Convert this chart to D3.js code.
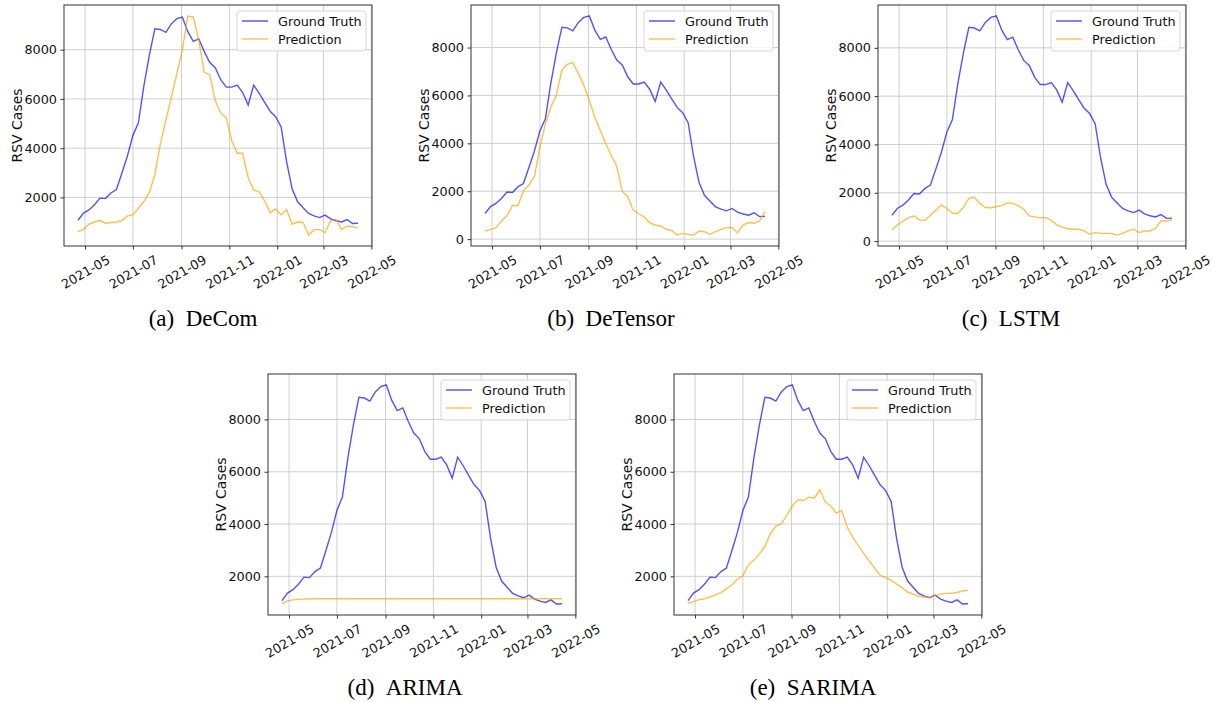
<!DOCTYPE html>
<html>
<head>
<meta charset="utf-8">
<style>
    body { margin: 0; background: #fff; }
    .tick text { font-family: "DejaVu Sans", sans-serif; font-size: 12.8px; fill: #111; }
    .tick line { stroke: #333; }
    .domain { display: none; }
    .grid line { stroke: #c9c9c9; stroke-width: 0.9; }
    .ylabel { font-family: "DejaVu Sans", sans-serif; font-size: 14px; fill: #111; text-anchor: middle; }
    .legend text { font-family: "DejaVu Sans", sans-serif; font-size: 12.8px; fill: #111; }
    .caption { font-family: "Liberation Serif", "Times New Roman", serif; font-size: 23px; text-anchor: middle; fill: #000; }
</style>
<script src="https://d3js.org/d3.v7.min.js"></script>
</head>
<body>
<svg width="1213" height="702"></svg>
<script>
// weekly series, first week ending 2021-04-22
var startDate = "2021-04-22";
var xTickLabels = ["2021-05", "2021-07", "2021-09", "2021-11", "2022-01", "2022-03", "2022-05"];
var yTickValues = [0, 2000, 4000, 6000, 8000];
var seriesNames = ["Ground Truth", "Prediction"];

var groundTruth = [1070, 1360, 1490, 1700, 1970, 1950, 2180, 2320, 2990, 3680, 4520, 5030, 6530, 7780, 8850, 8820,
    8700, 9050, 9260, 9320, 8730, 8340, 8440, 7920, 7480, 7270, 6780, 6480, 6480, 6560, 6260, 5750, 6560, 6230,
    5860, 5500, 5280, 4860, 3440, 2350, 1820, 1580, 1350, 1250, 1180, 1280, 1130, 1050, 1000, 1100, 940, 950];

var predDeCom = [610, 700, 910, 1000, 1060, 950, 980, 1000, 1060, 1250, 1290, 1560, 1830, 2200, 2920, 4170, 5120,
    6070, 7020, 7970, 9370, 9330, 8380, 7080, 6980, 5930, 5420, 5230, 4300, 3790, 3790, 2800, 2300, 2230, 1860,
    1370, 1530, 1290, 1510, 910, 1000, 980, 470, 690, 690, 570, 1050, 1110, 690, 830, 820, 740];

var predDeTensor = [340, 410, 480, 760, 970, 1410, 1390, 2020, 2260, 2620, 3840, 4820, 5520, 6010, 7060, 7300, 7370,
    6920, 6430, 5800, 5100, 4540, 3980, 3490, 3040, 1990, 1780, 1200, 1060, 920, 690, 590, 550, 410, 360, 170, 240,
    200, 170, 340, 310, 200, 310, 410, 480, 480, 270, 590, 690, 660, 760, 1150];

var predLSTM = [470, 670, 830, 970, 1040, 880, 860, 1070, 1280, 1490, 1360, 1150, 1150, 1390, 1770, 1810, 1560, 1390,
    1380, 1430, 1470, 1580, 1560, 1470, 1320, 1040, 1000, 970, 970, 860, 670, 580, 510, 490, 490, 420, 280, 350, 320,
    320, 320, 250, 320, 420, 490, 350, 420, 420, 530, 830, 830, 880];

var predARIMA = [970, 1060, 1100, 1120, 1130, 1135, 1140, 1140, 1140, 1140, 1140, 1140, 1140, 1140, 1140, 1140, 1140,
    1140, 1140, 1140, 1140, 1140, 1140, 1140, 1140, 1140, 1140, 1140, 1140, 1140, 1140, 1140, 1140, 1140, 1140, 1140,
    1140, 1140, 1140, 1140, 1140, 1140, 1140, 1140, 1140, 1140, 1140, 1140, 1140, 1140, 1140, 1140];

var predSARIMA = [970, 1030, 1110, 1140, 1210, 1290, 1380, 1530, 1670, 1890, 2020, 2440, 2620, 2860, 3140, 3630, 3920,
    4010, 4330, 4690, 4930, 4900, 5030, 4990, 5310, 4840, 4690, 4420, 4520, 3880, 3500, 3180, 2880, 2590, 2310, 2040,
    1950, 1850, 1700, 1570, 1400, 1320, 1240, 1210, 1200, 1260, 1320, 1350, 1350, 1380, 1440, 1470];

var captions = ["(a)\u2002DeCom", "(b)\u2002DeTensor", "(c)\u2002LSTM", "(d)\u2002ARIMA", "(e)\u2002SARIMA"];

// layout of the five axes boxes
var W = 308, H = 241;
var panels = [
    { left: 64,  top: 5,   pred: predDeCom,    cap: captions[0], capX: 203 },
    { left: 471, top: 5,   pred: predDeTensor, cap: captions[1], capX: 611 },
    { left: 878, top: 5,   pred: predLSTM,     cap: captions[2], capX: 1011 },
    { left: 268, top: 374, pred: predARIMA,    cap: captions[3], capX: 405 },
    { left: 674, top: 374, pred: predSARIMA,   cap: captions[4], capX: 813 }
];

var parseDay = d3.utcParse("%Y-%m-%d");
var parseMonth = d3.utcParse("%Y-%m");
var t0 = parseDay(startDate);
var dates = groundTruth.map(function (d, i) { return d3.utcDay.offset(t0, 7 * i); });
var xTicks = xTickLabels.map(parseMonth);

var svg = d3.select("svg");

function drawPanel(p) {
    var g = svg.append("g").attr("transform", "translate(" + p.left + "," + p.top + ")");

    // matplotlib style 5% margins
    var dExt = d3.extent(dates);
    var span = dExt[1] - dExt[0];
    var x = d3.scaleUtc()
        .domain([new Date(+dExt[0] - span * 0.05), new Date(+dExt[1] + span * 0.05)])
        .range([0, W]);

    var vExt = d3.extent(groundTruth.concat(p.pred));
    var vPad = (vExt[1] - vExt[0]) * 0.05;
    var y = d3.scaleLinear()
        .domain([vExt[0] - vPad, vExt[1] + vPad])
        .range([H, 0]);

    var yTicks = yTickValues.filter(function (v) { return v >= y.domain()[0] && v <= y.domain()[1]; });

    // grid
    var grid = g.append("g").attr("class", "grid");
    grid.selectAll(".gx").data(xTicks).enter().append("line")
        .attr("x1", function (d) { return x(d); }).attr("x2", function (d) { return x(d); })
        .attr("y1", 0).attr("y2", H);
    grid.selectAll(".gy").data(yTicks).enter().append("line")
        .attr("y1", function (d) { return y(d); }).attr("y2", function (d) { return y(d); })
        .attr("x1", 0).attr("x2", W);

    // lines
    var line = d3.line()
        .x(function (d, i) { return x(dates[i]); })
        .y(function (d) { return y(d); });

    g.append("path").datum(groundTruth)
        .attr("fill", "none").attr("stroke", "blue").attr("stroke-opacity", 0.68)
        .attr("stroke-width", 1.4).attr("d", line);
    g.append("path").datum(p.pred)
        .attr("fill", "none").attr("stroke", "orange").attr("stroke-opacity", 0.7)
        .attr("stroke-width", 1.4).attr("d", line);

    // axes
    var xAxis = g.append("g").attr("transform", "translate(0," + H + ")")
        .call(d3.axisBottom(x).tickValues(xTicks).tickFormat(d3.utcFormat("%Y-%m")).tickSize(3.5));
    xAxis.selectAll("text")
        .attr("y", 0).attr("dy", null)
        .attr("dominant-baseline", "central")
        .attr("text-anchor", "middle")
        .attr("transform", "translate(0,26) rotate(-30)");

    g.append("g")
        .call(d3.axisLeft(y).tickValues(yTicks).tickFormat(d3.format("d")).tickSize(3.5).tickPadding(3.5));

    g.append("rect")
        .attr("width", W).attr("height", H)
        .attr("fill", "none").attr("stroke", "#333").attr("stroke-width", 1);

    g.append("text").attr("class", "ylabel")
        .attr("transform", "translate(-47.5," + H / 2 + ") rotate(-90)")
        .attr("dominant-baseline", "central")
        .text("RSV Cases");

    // legend, upper right
    var lg = g.append("g").attr("class", "legend")
        .attr("transform", "translate(" + (W - 6 - 129) + ",6)");
    lg.append("rect").attr("width", 129).attr("height", 40).attr("rx", 3)
        .attr("fill", "#fff").attr("fill-opacity", 0.8)
        .attr("stroke", "#d6d6d6").attr("stroke-width", 1);
    var colors = ["blue", "orange"];
    seriesNames.forEach(function (name, i) {
        var yy = 10 + i * 18;
        lg.append("line").attr("x1", 5).attr("x2", 31).attr("y1", yy).attr("y2", yy)
            .attr("stroke", colors[i]).attr("stroke-opacity", 0.7).attr("stroke-width", 1.4);
        lg.append("text").attr("x", 41).attr("y", yy)
            .attr("dominant-baseline", "central").text(name);
    });

    // subfigure caption
    svg.append("text").attr("class", "caption")
        .attr("x", p.capX).attr("y", p.top + 321)
        .text(p.cap);
}

panels.forEach(drawPanel);
</script>
</body>
</html>
